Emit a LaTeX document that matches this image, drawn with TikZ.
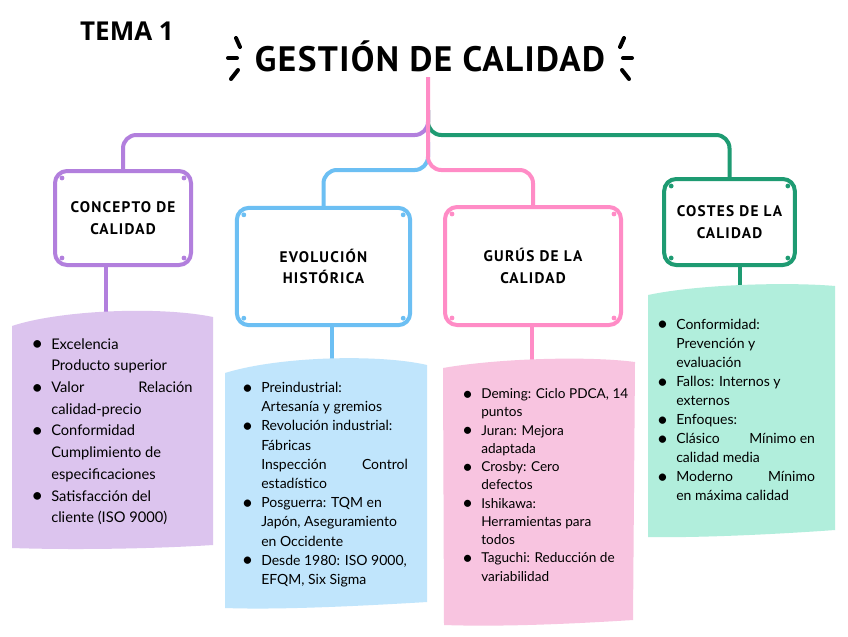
\documentclass[tikz,border=0pt]{standalone}
\usepackage{fontspec}
\usepackage{enumitem}
\setmainfont{Lato}
\newfontfamily\headfont{PT Sans}
\newfontfamily\temafont{Open Sans}
\usetikzlibrary{calc}

\definecolor{lila}{HTML}{B27FDD}
\definecolor{lilaFill}{HTML}{DCC4EE}
\definecolor{cielo}{HTML}{6CBFF3}
\definecolor{cieloFill}{HTML}{C0E5FC}
\definecolor{rosa}{HTML}{FF8CC6}
\definecolor{rosaFill}{HTML}{F8C4E0}
\definecolor{verde}{HTML}{1E9B72}
\definecolor{verdeFill}{HTML}{B1EEDC}

\setlist[itemize]{label={\raisebox{-1.2pt}{\scalebox{1.4}{\textbullet}}}, leftmargin=12pt, labelsep=6pt, itemsep=0pt, topsep=0pt, parsep=0pt, partopsep=0pt}

\begin{document}
\begin{tikzpicture}[x=0.75pt, y=-0.75pt, line cap=round, line join=round,
  cabecera/.style={draw=#1, line width=3pt, fill=white, rounded corners=9pt, align=center, inner sep=0pt,
    font={\headfont\bfseries\addfontfeatures{LetterSpace=8}\fontsize{11.5}{16}\selectfont}},
  rama/.style={draw=#1, line width=3pt, rounded corners=10pt, line cap=butt},
  lista/.style={anchor=north west, inner sep=0pt, align=justify, text width=#1}]
  \path[use as bounding box, fill=white] (0,0) rectangle (848,636);

  \node[font=\temafont\bfseries\fontsize{19.5}{23}\selectfont] (tema) at (127,31) {TEMA 1};
  \node[font={\headfont\bfseries\addfontfeatures{LetterSpace=4}\fontsize{26.5}{30}\selectfont}] (titulo) at (430,56) {GESTIÓN DE CALIDAD};
  \draw[line width=3pt] (236,38) -- (240,47);
  \draw[line width=3pt] (228,58) -- (237,58);
  \draw[line width=3pt] (238,70) -- (231,79);
  \draw[line width=3pt] (624,38) -- (620,47);
  \draw[line width=3pt] (632,58) -- (623,58);
  \draw[line width=3pt] (622,70) -- (629,79);
  \coordinate (raiz) at (428,77);

  \node[cabecera=lila, minimum width=102pt, minimum height=70.5pt] (concepto) at (123,218) {CONCEPTO DE\\CALIDAD};
  \node[cabecera=cielo, minimum width=130pt, minimum height=88pt] (evolucion) at (323.5,266.5) {EVOLUCIÓN\\HISTÓRICA};
  \node[cabecera=rosa, minimum width=132pt, minimum height=88.5pt] (gurus) at (533,266) {GURÚS DE LA\\CALIDAD};
  \node[cabecera=verde, minimum width=98pt, minimum height=64.5pt] (costes) at (729.5,222) {COSTES DE LA\\CALIDAD};
  \foreach \b/\c in {concepto/lila, evolucion/cielo, gurus/rosa, costes/verde}{
    \foreach \p/\s in {north west/{(9,9)}, north east/{(-9,9)}, south west/{(9,-9)}, south east/{(-9,-9)}}
      \fill[\c] ([shift={\s}]\b.\p) circle (1.8pt);
  }

  \draw[rama=lila] ($(raiz)+(0,33)$) -- (428,135) -| (concepto.north);
  \draw[rama=verde] ($(raiz)+(0,33)$) -- (428,135) -| (costes.north);
  \draw[rama=cielo] ($(raiz)+(0,65)$) -- (428,170) -| (evolucion.north);
  \draw[rama=rosa] (raiz) -- (428,170) -| (gurus.north);

  \coordinate (conceptoTop) at (106,318);
  \coordinate (evolucionTop) at (332,362);
  \coordinate (gurusTop) at (532,364);
  \coordinate (costesTop) at (740,290);
  \draw[rama=lila] (concepto.south -| conceptoTop) -- (conceptoTop);
  \draw[rama=cielo] (evolucion.south -| evolucionTop) -- (evolucionTop);
  \draw[rama=rosa] (gurus.south -| gurusTop) -- (gurusTop);
  \draw[rama=verde] (costes.south -| costesTop) -- (costesTop);

  \fill[lilaFill] (12,326) .. controls (60,310) and (160,306) .. (213,317) -- (213,545) .. controls (150,549) and (70,550) .. (12,548) -- cycle;
  \fill[cieloFill] (225,373) .. controls (280,356) and (380,354) .. (427,365) -- (427,602) .. controls (360,606) and (280,610) .. (225,608) -- cycle;
  \fill[rosaFill] (443,368) .. controls (500,358) and (590,356) .. (635,362) -- (633,620) .. controls (570,624) and (500,627) .. (444,625) -- cycle;
  \fill[verdeFill] (648,295) .. controls (700,284) and (790,282) .. (835,286) -- (835,530) .. controls (780,534) and (700,538) .. (648,537) -- cycle;

  \node[lista=118pt, font=\fontsize{11}{16.3}\selectfont] (conceptoLista) at (35,327) {%
    \begin{itemize}
      \item Excelencia\\ Producto superior
      \item Valor\hfill Relación\\ calidad-precio
      \item Conformidad\\ Cumplimiento de\\ especificaciones
      \item Satisfacción del\\ cliente (ISO 9000)
    \end{itemize}};
  \node[lista=122pt, font=\fontsize{10.5}{14.4}\selectfont] (evolucionLista) at (245,373) {%
    \begin{itemize}
      \item Preindustrial:\\ Artesanía y gremios
      \item Revolución industrial:\\ Fábricas\\ Inspección\hfill Control\\ estadístico
      \item Posguerra: TQM en\\ Japón, Aseguramiento\\ en Occidente
      \item Desde 1980: ISO 9000,\\ EFQM, Six Sigma
    \end{itemize}};
  \node[lista=124pt, font=\fontsize{10.2}{13.7}\selectfont] (gurusLista) at (465,380) {%
    \begin{itemize}
      \item Deming: Ciclo PDCA, 14\\ puntos
      \item Juran: Mejora\\ adaptada
      \item Crosby: Cero\\ defectos
      \item Ishikawa:\\ Herramientas para\\ todos
      \item Taguchi: Reducción de\\ variabilidad
    \end{itemize}};
  \node[lista=116pt, font=\fontsize{10.5}{14.3}\selectfont] (costesLista) at (660,310) {%
    \begin{itemize}
      \item Conformidad:\\ Prevención y\\ evaluación
      \item Fallos: Internos y\\ externos
      \item Enfoques:
      \item Clásico\hfill Mínimo en\\ calidad media
      \item Moderno\hfill Mínimo\\ en máxima calidad
    \end{itemize}};
\end{tikzpicture}
\end{document}
